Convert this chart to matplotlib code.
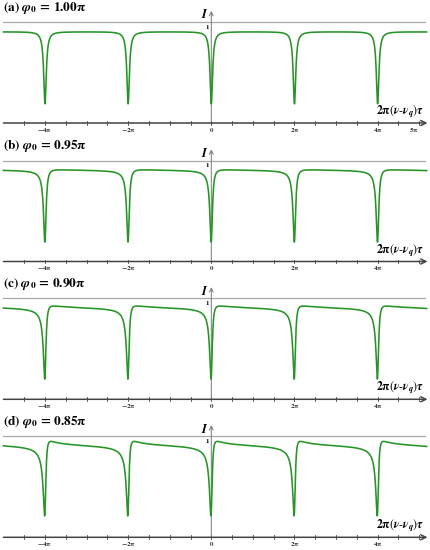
import numpy as np
import matplotlib
matplotlib.use("Agg")
import matplotlib.pyplot as plt

plt.rcParams['mathtext.fontset'] = 'stix'
plt.rcParams['font.family'] = ['STIXGeneral', 'Liberation Serif', 'DejaVu Serif']

# panel settings
panel_tags = ['a', 'b', 'c', 'd']
phi0_values = [1.00, 0.95, 0.90, 0.85]          # in units of pi
tick_values = [-4, -2, 0, 2, 4]                 # labelled ticks, units of pi
tick_texts = [r'-4\pi', r'-2\pi', r'0', r'2\pi', r'4\pi']

# line-shape parameters (estimated from dip depth / width / baseline)
R = 0.89       # round-trip factor -> dip width
c = 0.556      # coupling -> dip depth
A = 0.963      # overall scale -> baseline level
k = 0.75       # how strongly (pi - phi0) skews the dip

green = '#279427'
axis_col = '#444444'
grey = '#a8a8a8'

fig = plt.figure(figsize=(4.31, 5.50), dpi=100)
W, H = 431.0, 550.0
axis_rows = [123.0, 261.5, 399.3, 537.3]   # pixel row of the x axis in each panel
px_unit = 101.0                             # pixels for I = 1
below, above = 14.0, 123.0

x_pi = np.linspace(-5.0, 5.18, 8000)
x = np.pi * x_pi

for i, tag in enumerate(panel_tags):
    row = axis_rows[i]
    ax = fig.add_axes([0, (H - row - below) / H, 1, (below + above) / H])
    ax.set_xlim(-211.3 / 41.58, (W - 211.3) / 41.58)
    ax.set_ylim(-below / px_unit, above / px_unit)
    ax.axis('off')

    delta = k * np.pi * (1.0 - phi0_values[i])
    L = (1 - R) / (1 - R * np.exp(-1j * x))
    E = 1 - c * np.exp(-1j * delta) * L
    I = A * np.abs(E) ** 2

    # reference line at I = 1
    ax.plot([-5.0, 5.15], [1, 1], color=grey, lw=0.9, zorder=1)
    # vertical axis
    ax.annotate('', xy=(0, 1.11), xytext=(0, 0),
                arrowprops=dict(arrowstyle='->', color='#777777', lw=0.7,
                                mutation_scale=7, shrinkA=0, shrinkB=0))
    # horizontal axis
    ax.annotate('', xy=(5.2, 0), xytext=(-5.0, 0),
                arrowprops=dict(arrowstyle='->', color=axis_col, lw=1.1,
                                mutation_scale=9, shrinkA=0, shrinkB=0))
    for t in np.arange(-4.5, 5.01, 0.5):
        ax.plot([t, t], [-0.018, 0.018], color=axis_col, lw=0.6)

    ax.plot(x_pi, I, color=green, lw=1.15, zorder=3)

    labels = list(zip(tick_values, tick_texts))
    if i == 0:
        labels.append((4.88, r'5\pi'))
    for t, s in labels:
        ax.text(t, -0.065, r'$\mathbf{%s}$' % s, fontsize=5, ha='center',
                va='center', color='#333333')

    ax.text(-0.06, 1.07, r'$\mathbfit{I}$', fontsize=9, ha='right',
            va='center')
    ax.text(-0.04, 0.955, r'$\mathbf{1}$', fontsize=5, ha='right',
            va='center')
    ax.text(5.13, 0.11,
            r'$\mathbf{2\pi}\left(\mathbfit{\nu}\text{-}\mathbfit{\nu}_{\mathbfit{q}}\right)\mathbfit{\tau}$',
            fontsize=8.5, ha='right', va='center')
    ax.text(-5.02, 1.14,
            r'$\mathbf{(%s)}\ \mathbfit{\varphi}_{\mathbf{0}}\mathbf{\,=\,%.2f\pi}$'
            % (tag, phi0_values[i]),
            fontsize=9.5, ha='left', va='center')

fig.savefig('out.png', dpi=100)
